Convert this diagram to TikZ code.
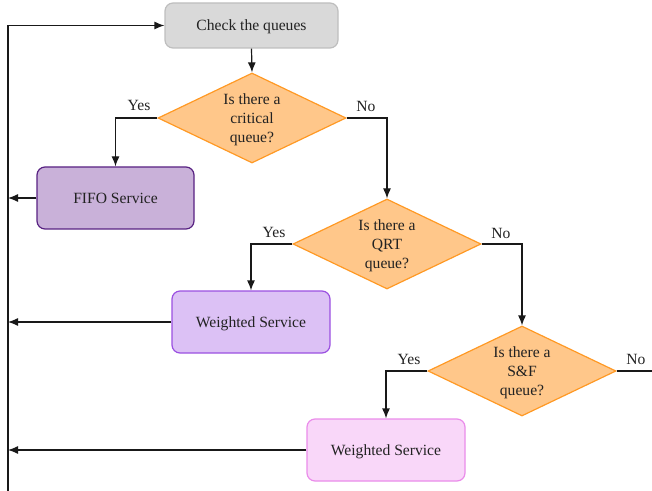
\documentclass[tikz,border=0pt]{standalone}
\usepackage{fontspec}
\setmainfont{Liberation Serif}
\usetikzlibrary{shapes.geometric,arrows.meta}
\definecolor{txt}{RGB}{34,34,34}
\definecolor{chkfill}{RGB}{217,217,217}
\definecolor{chkdraw}{RGB}{190,190,190}
\definecolor{decfill}{RGB}{255,199,138}
\definecolor{decdraw}{RGB}{255,153,36}
\definecolor{fifofill}{RGB}{201,177,217}
\definecolor{fifodraw}{RGB}{88,34,130}
\definecolor{wafill}{RGB}{220,193,245}
\definecolor{wadraw}{RGB}{155,80,225}
\definecolor{wbfill}{RGB}{249,215,249}
\definecolor{wbdraw}{RGB}{234,140,234}
\definecolor{ln}{RGB}{25,25,25}
\tikzset{
  box/.style={rectangle, rounded corners=6pt, line width=0.9pt, font=\fontsize{11.7}{14.3}\selectfont, text=txt, inner sep=0pt, text depth=0pt},
  dec/.style={diamond, aspect=2.09, inner sep=0pt, minimum width=141pt, minimum height=67.5pt, fill=decfill, draw=decdraw, line width=0.9pt, align=center, font=\fontsize{11.7}{14.3}\selectfont, text=txt, text depth=0pt},
  conn/.style={draw=ln, line width=0.9pt},
  arr/.style={conn, -{Latex[length=7.5pt,width=6pt]}},
  lbl/.style={font=\fontsize{11.7}{14.3}\selectfont, text=txt, inner sep=0pt}
}
\begin{document}
\begin{tikzpicture}[x=0.75pt,y=-0.75pt]
\useasboundingbox (0,0) rectangle (652,491);
\node[box, fill=chkfill, draw=chkdraw, minimum width=129.75pt, minimum height=33.75pt] (check) at (251.5,25.5) {Check the queues};
\node[dec] (d1) at (252,118) {Is there a\\critical\\queue?};
\node[box, fill=fifofill, draw=fifodraw, minimum width=117.75pt, minimum height=46.5pt] (fifo) at (115.5,198) {FIFO Service};
\node[dec] (d2) at (387,244) {Is there a\\QRT\\queue?};
\node[box, fill=wafill, draw=wadraw, minimum width=118.5pt, minimum height=46.5pt] (w1) at (251,322) {Weighted Service};
\node[dec] (d3) at (522,371) {Is there a\\S\&F\\queue?};
\node[box, fill=wbfill, draw=wbdraw, minimum width=118.5pt, minimum height=46.5pt] (w2) at (386,450) {Weighted Service};
\coordinate (ltop) at (8,27);
\coordinate (lbot) at (8,491);
\coordinate (offr) at (652,371);
% feedback line
\draw[arr] (lbot) |- (check.west);
\draw[arr] (fifo.west) -- (fifo.west -| lbot);
\draw[arr] (w1.west) -- (w1.west -| lbot);
\draw[arr] (w2.west) -- (w2.west -| lbot);
% flow
\draw[arr] (check.south) -- (d1.north);
\draw[arr] (d1.west) -| (fifo.north);
\draw[arr] (d1.east) -| (d2.north);
\draw[arr] (d2.west) -| (w1.north);
\draw[arr] (d2.east) -| (d3.north);
\draw[arr] (d3.west) -| (w2.north);
\draw[conn] (d3.east) -- (offr);
% labels
\node[lbl] (y1) at (139,105.5) {Yes};
\node[lbl] (n1) at (366,106.5) {No};
\node[lbl] (y2) at (274,232.5) {Yes};
\node[lbl] (n2) at (501,233.5) {No};
\node[lbl] (y3) at (409,359.5) {Yes};
\node[lbl] (n3) at (636,359.5) {No};
\end{tikzpicture}
\end{document}
